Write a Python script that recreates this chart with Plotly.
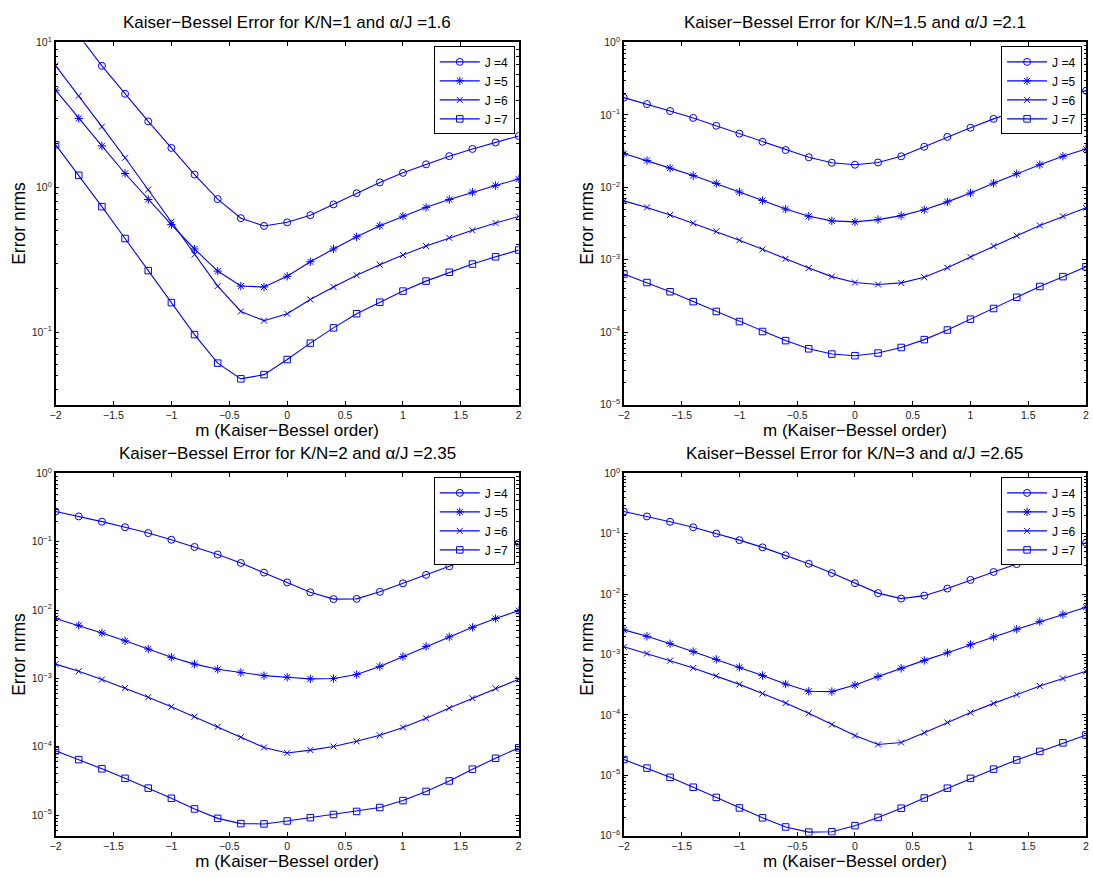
import plotly.graph_objects as go

# ---------------- data ----------------
m_order = [-2.0, -1.8, -1.6, -1.4, -1.2, -1.0, -0.8, -0.6, -0.4, -0.2, 0.0,
           0.2, 0.4, 0.6, 0.8, 1.0, 1.2, 1.4, 1.6, 1.8, 2.0]

J_labels = ["J =4", "J =5", "J =6", "J =7"]

# K/N = 1, alpha/J = 1.6
kn1_j4 = [17.0, 11.2, 6.89, 4.42, 2.85, 1.87, 1.225, 0.829, 0.612, 0.541, 0.573,
          0.642, 0.762, 0.91, 1.08, 1.258, 1.44, 1.64, 1.84, 2.04, 2.26]
kn1_j5 = [4.68, 2.99, 1.93, 1.245, 0.824, 0.552, 0.375, 0.264, 0.208, 0.205, 0.243,
          0.306, 0.375, 0.455, 0.543, 0.632, 0.727, 0.824, 0.925, 1.03, 1.14]
kn1_j6 = [6.92, 4.28, 2.62, 1.60, 0.964, 0.578, 0.343, 0.208, 0.139, 0.120, 0.134,
          0.168, 0.205, 0.247, 0.292, 0.341, 0.393, 0.448, 0.505, 0.566, 0.629]
kn1_j7 = [1.97, 1.21, 0.735, 0.443, 0.266, 0.160, 0.0962, 0.0611, 0.0476, 0.0509, 0.0647,
          0.0840, 0.107, 0.134, 0.161, 0.192, 0.225, 0.259, 0.295, 0.331, 0.369]

# K/N = 1.5, alpha/J = 2.1
kn15_j4 = [0.173, 0.141, 0.113, 0.0908, 0.0707, 0.0551, 0.0425, 0.0327, 0.026, 0.0218, 0.0205,
           0.022, 0.0268, 0.0363, 0.0496, 0.0664, 0.088, 0.114, 0.145, 0.178, 0.216]
kn15_j5 = [0.0292, 0.0234, 0.0184, 0.0145, 0.0113, 0.0086, 0.00656, 0.0050, 0.00398, 0.00344, 0.00333,
           0.00358, 0.00406, 0.0049, 0.00629, 0.00834, 0.0114, 0.0154, 0.0205, 0.0268, 0.0337]
kn15_j6 = [0.00649, 0.00527, 0.00415, 0.00319, 0.00246, 0.00186, 0.00139, 0.00103, 0.000766, 0.000584, 0.000484,
           0.000455, 0.000479, 0.000572, 0.000774, 0.00109, 0.00154, 0.00215, 0.00297, 0.00398, 0.00521]
kn15_j7 = [0.000635, 0.000484, 0.000361, 0.000264, 0.000193, 0.00014, 0.000102, 7.64e-5, 5.89e-5, 4.98e-5, 4.73e-5,
           5.14e-5, 6.14e-5, 7.88e-5, 0.000107, 0.000151, 0.000212, 0.000303, 0.000427, 0.000584, 0.000798]

# K/N = 2, alpha/J = 2.35
kn2_j4 = [0.277, 0.235, 0.197, 0.163, 0.134, 0.107, 0.0840, 0.0651, 0.0489, 0.0354, 0.0254,
          0.0182, 0.0145, 0.0146, 0.0185, 0.0246, 0.0328, 0.0437, 0.0583, 0.0752, 0.0959]
kn2_j5 = [0.00754, 0.00598, 0.00463, 0.00355, 0.00269, 0.00204, 0.00162, 0.00136, 0.00122, 0.0011, 0.00104,
          0.000985, 0.000996, 0.00114, 0.0015, 0.00209, 0.00294, 0.00406, 0.00559, 0.00754, 0.00982]
kn2_j6 = [0.00162, 0.00127, 0.000964, 0.000722, 0.000530, 0.000385, 0.000276, 0.000196, 0.000138, 9.75e-5, 8.09e-5,
          8.93e-5, 0.000101, 0.000120, 0.000147, 0.000192, 0.000261, 0.000368, 0.000513, 0.000714, 0.000973]
kn2_j7 = [8.73e-5, 6.48e-5, 4.76e-5, 3.45e-5, 2.48e-5, 1.76e-5, 1.23e-5, 8.95e-6, 7.5e-6, 7.42e-6, 8.2e-6,
          9.16e-6, 1.02e-5, 1.13e-5, 1.29e-5, 1.63e-5, 2.22e-5, 3.16e-5, 4.7e-5, 6.78e-5, 9.66e-5]

# K/N = 3, alpha/J = 2.65
kn3_j4 = [0.234, 0.194, 0.158, 0.128, 0.101, 0.0785, 0.0596, 0.0441, 0.0319, 0.0224, 0.0152,
          0.0104, 0.00844, 0.00944, 0.0124, 0.0172, 0.0233, 0.0315, 0.0414, 0.0546, 0.071]
kn3_j5 = [0.00256, 0.00200, 0.00151, 0.00112, 0.00083, 0.000614, 0.000449, 0.000324, 0.000246, 0.000243, 0.000312,
          0.000432, 0.000591, 0.000799, 0.00107, 0.00146, 0.00195, 0.00263, 0.00351, 0.00462, 0.00608]
kn3_j6 = [0.00134, 0.00104, 0.000789, 0.000598, 0.000443, 0.00032, 0.000225, 0.000157, 0.000106, 6.93e-5, 4.53e-5,
          3.23e-5, 3.48e-5, 5.07e-5, 7.48e-5, 0.000109, 0.000155, 0.000217, 0.000300, 0.000401, 0.000528]
kn3_j7 = [1.82e-5, 1.31e-5, 9.22e-6, 6.33e-6, 4.29e-6, 2.87e-6, 1.97e-6, 1.39e-6, 1.14e-6, 1.16e-6, 1.46e-6,
          2.0e-6, 2.84e-6, 4.19e-6, 6.1e-6, 8.87e-6, 1.26e-5, 1.79e-5, 2.48e-5, 3.44e-5, 4.65e-5]

panel_titles = [
    "Kaiser\u2212Bessel Error for K/N=1 and \u03b1/J =1.6",
    "Kaiser\u2212Bessel Error for K/N=1.5 and \u03b1/J =2.1",
    "Kaiser\u2212Bessel Error for K/N=2 and \u03b1/J =2.35",
    "Kaiser\u2212Bessel Error for K/N=3 and \u03b1/J =2.65",
]
x_title = "m (Kaiser\u2212Bessel order)"
y_title = "Error nrms"
x_ticks = [-2, -1.5, -1, -0.5, 0, 0.5, 1, 1.5, 2]
y_log_ranges = [(-1.5, 1), (-5, 0), (-5.3, 0), (-6, 0)]
y_decades = [(-1, 1), (-5, 0), (-5, 0), (-6, 0)]

series = [
    [kn1_j4, kn1_j5, kn1_j6, kn1_j7],
    [kn15_j4, kn15_j5, kn15_j6, kn15_j7],
    [kn2_j4, kn2_j5, kn2_j6, kn2_j7],
    [kn3_j4, kn3_j5, kn3_j6, kn3_j7],
]

# ---------------- styling ----------------
W, H = 1093, 877
BLUE = "#0000ff"
FONT = "Liberation Sans, Arial, Helvetica, sans-serif"
symbols = ["circle-open", "asterisk-open", "x-thin-open", "square-open"]
sizes = [7, 7, 6, 6.5]

# pixel boxes of the axes (left, right, top, bottom)
boxes = [(50, 517, 35, 403), (623, 1089, 35, 403),
         (50, 517, 473, 841), (623, 1089, 473, 841)]

fig = go.Figure()
layout = dict(
    width=W, height=H,
    margin=dict(l=0, r=0, t=0, b=0),
    paper_bgcolor="white", plot_bgcolor="white",
    font=dict(family=FONT, color="#111111"),
    showlegend=True,
    annotations=[],
)

for p in range(4):
    ax = "" if p == 0 else str(p + 1)
    xref, yref = "x" + ax, "y" + ax
    legname = "legend" if p == 0 else "legend" + str(p + 1)
    for k in range(4):
        fig.add_trace(go.Scatter(
            x=m_order, y=series[p][k], name=J_labels[k],
            mode="lines+markers",
            line=dict(color=BLUE, width=1.1),
            marker=dict(symbol=symbols[k], size=sizes[k], color=BLUE,
                        line=dict(color=BLUE, width=1)),
            xaxis=xref, yaxis=yref, legend=legname,
        ))
    l, r, t, b = boxes[p]
    xd = [l / W, r / W]
    yd = [1 - b / H, 1 - t / H]
    lo, hi = y_decades[p]
    tv = [10.0 ** e for e in range(lo, hi + 1)]
    tt = ["10<sup>%s</sup>" % (("\u2212%d" % -e) if e < 0 else str(e)) for e in range(lo, hi + 1)]
    minor_vals = [j * 10.0 ** e for e in range(lo - 1, hi + 1) for j in range(2, 10)]
    layout["xaxis" + ax] = dict(
        domain=xd, anchor=yref, range=[-2, 2],
        tickmode="array", tickvals=x_ticks,
        ticks="inside", ticklen=4, tickwidth=1, tickcolor="black",
        showline=True, linecolor="black", linewidth=1.5, mirror="ticks",
        showgrid=False, zeroline=False,
        tickfont=dict(size=10.5, color="#222222"),
        title=dict(text=x_title, font=dict(size=17, color="black"), standoff=4),
    )
    layout["yaxis" + ax] = dict(
        domain=yd, anchor=xref, type="log",
        range=list(y_log_ranges[p]),
        tickmode="array", tickvals=tv, ticktext=tt,
        ticks="inside", ticklen=4, tickwidth=1, tickcolor="black",
        minor=dict(tickmode="array", tickvals=minor_vals, ticks="inside",
                   ticklen=2.5, tickcolor="black", showgrid=False),
        showline=True, linecolor="black", linewidth=1.5, mirror="ticks",
        showgrid=False, zeroline=False,
        tickfont=dict(size=10.5, color="#222222"),
        title=dict(text=y_title, font=dict(size=17.5, color="black"), standoff=2),
    )
    layout[legname] = dict(
        x=(r - 4) / W, y=1 - (t + 4) / H, xanchor="right", yanchor="top",
        bgcolor="white", bordercolor="black", borderwidth=1,
        font=dict(size=12, color="black", family=FONT),
        itemwidth=40, tracegroupgap=0,
    )
    layout["annotations"].append(dict(
        text=panel_titles[p], x=(l + r) / 2 / W, y=1 - (t - 9) / H,
        xref="paper", yref="paper", xanchor="center", yanchor="bottom",
        showarrow=False, font=dict(size=17, color="black", family=FONT),
    ))

fig.update_layout(**layout)
fig.write_html(
    "out.html",
    config={"displayModeBar": False},
    post_script="document.body.style.margin='0px';document.body.style.overflow='hidden';",
)
